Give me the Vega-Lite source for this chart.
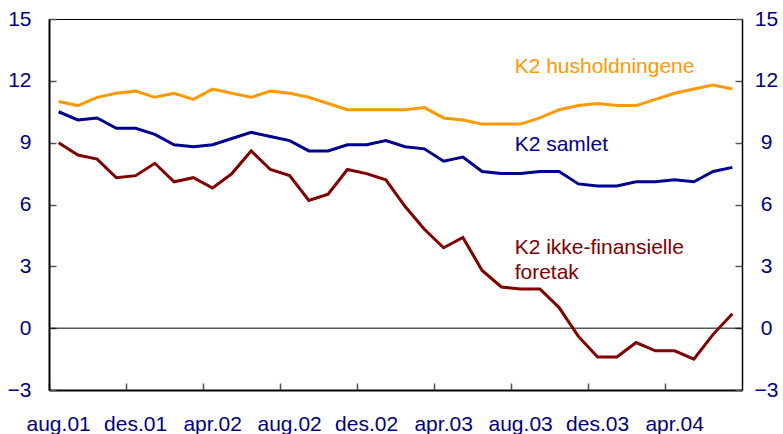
{
  "$schema": "https://vega.github.io/schema/vega-lite/v6.json",
  "width": 693,
  "height": 371,
  "autosize": {"type": "none"},
  "padding": {"left": 49, "top": 19, "right": 41, "bottom": 44},
  "background": "#ffffff",
  "config": {
    "view": {"stroke": "#000000", "strokeWidth": 1},
    "font": "Liberation Sans",
    "axis": {"labelFont": "Liberation Sans", "grid": false, "title": null}
  },
  "datasets": {
    "k2": [
      {"m": "aug.01", "hus": 11.0, "sam": 10.5, "ikke": 9.0},
      {"m": "sep.01", "hus": 10.8, "sam": 10.1, "ikke": 8.4},
      {"m": "okt.01", "hus": 11.2, "sam": 10.2, "ikke": 8.2},
      {"m": "nov.01", "hus": 11.4, "sam": 9.7, "ikke": 7.3},
      {"m": "des.01", "hus": 11.5, "sam": 9.7, "ikke": 7.4},
      {"m": "jan.02", "hus": 11.2, "sam": 9.4, "ikke": 8.0},
      {"m": "feb.02", "hus": 11.4, "sam": 8.9, "ikke": 7.1},
      {"m": "mar.02", "hus": 11.1, "sam": 8.8, "ikke": 7.3},
      {"m": "apr.02", "hus": 11.6, "sam": 8.9, "ikke": 6.8},
      {"m": "mai.02", "hus": 11.4, "sam": 9.2, "ikke": 7.5},
      {"m": "jun.02", "hus": 11.2, "sam": 9.5, "ikke": 8.6},
      {"m": "jul.02", "hus": 11.5, "sam": 9.3, "ikke": 7.7},
      {"m": "aug.02", "hus": 11.4, "sam": 9.1, "ikke": 7.4},
      {"m": "sep.02", "hus": 11.2, "sam": 8.6, "ikke": 6.2},
      {"m": "okt.02", "hus": 10.9, "sam": 8.6, "ikke": 6.5},
      {"m": "nov.02", "hus": 10.6, "sam": 8.9, "ikke": 7.7},
      {"m": "des.02", "hus": 10.6, "sam": 8.9, "ikke": 7.5},
      {"m": "jan.03", "hus": 10.6, "sam": 9.1, "ikke": 7.2},
      {"m": "feb.03", "hus": 10.6, "sam": 8.8, "ikke": 5.9},
      {"m": "mar.03", "hus": 10.7, "sam": 8.7, "ikke": 4.8},
      {"m": "apr.03", "hus": 10.2, "sam": 8.1, "ikke": 3.9},
      {"m": "mai.03", "hus": 10.1, "sam": 8.3, "ikke": 4.4},
      {"m": "jun.03", "hus": 9.9, "sam": 7.6, "ikke": 2.8},
      {"m": "jul.03", "hus": 9.9, "sam": 7.5, "ikke": 2.0},
      {"m": "aug.03", "hus": 9.9, "sam": 7.5, "ikke": 1.9},
      {"m": "sep.03", "hus": 10.2, "sam": 7.6, "ikke": 1.9},
      {"m": "okt.03", "hus": 10.6, "sam": 7.6, "ikke": 1.0},
      {"m": "nov.03", "hus": 10.8, "sam": 7.0, "ikke": -0.4},
      {"m": "des.03", "hus": 10.9, "sam": 6.9, "ikke": -1.4},
      {"m": "jan.04", "hus": 10.8, "sam": 6.9, "ikke": -1.4},
      {"m": "feb.04", "hus": 10.8, "sam": 7.1, "ikke": -0.7},
      {"m": "mar.04", "hus": 11.1, "sam": 7.1, "ikke": -1.1},
      {"m": "apr.04", "hus": 11.4, "sam": 7.2, "ikke": -1.1},
      {"m": "mai.04", "hus": 11.6, "sam": 7.1, "ikke": -1.5},
      {"m": "jun.04", "hus": 11.8, "sam": 7.6, "ikke": -0.3},
      {"m": "jul.04", "hus": 11.6, "sam": 7.8, "ikke": 0.7}
    ],
    "labels": [
      {"txt": "K2 husholdningene", "m": "aug.03", "v": 12.4, "serie": "hus"},
      {"txt": "K2 samlet", "m": "aug.03", "v": 8.6, "serie": "sam"},
      {"txt": "K2 ikke-finansielle\nforetak", "m": "aug.03", "v": 3.6, "serie": "ikke"}
    ]
  },
  "layer": [
    {
      "data": {"values": [{}]},
      "mark": {"type": "rule", "color": "#000000", "strokeWidth": 1},
      "encoding": {
        "y": {
          "datum": 0,
          "type": "quantitative",
          "scale": {"domain": [-3, 15], "nice": false, "zero": false},
          "axis": {
            "orient": "right",
            "values": [-3, 0, 3, 6, 9, 12, 15],
            "tickSize": -7,
            "tickColor": "#555555",
            "tickWidth": 1.5,
            "labelPadding": 31,
            "labelAlign": "center",
            "labelBaseline": "middle",
            "labelFontSize": 21,
            "labelColor": "#000080",
            "domainColor": "#000000",
            "domainWidth": 1.5
          }
        }
      }
    },
    {
      "data": {"name": "k2"},
      "transform": [{"fold": ["hus", "sam", "ikke"], "as": ["serie", "verdi"]}],
      "mark": {"type": "line", "strokeWidth": 3},
      "encoding": {
        "x": {
          "field": "m",
          "type": "ordinal",
          "sort": null,
          "bandPosition": 0.5,
          "scale": {"type": "band", "paddingInner": 0, "paddingOuter": 0},
          "axis": {
            "values": ["aug.01", "des.01", "apr.02", "aug.02", "des.02", "apr.03", "aug.03", "des.03", "apr.04"],
            "bandPosition": 0,
            "tickSize": -7,
            "tickColor": "#555555",
            "tickWidth": 1.5,
            "labelPadding": 47,
            "labelBaseline": "alphabetic",
            "labelAngle": 0,
            "labelFontSize": 21,
            "labelColor": "#000080",
            "labelOverlap": false,
            "domainColor": "#000000",
            "domainWidth": 2
          }
        },
        "y": {
          "field": "verdi",
          "type": "quantitative",
          "scale": {"domain": [-3, 15], "nice": false, "zero": false},
          "axis": {
            "orient": "left",
            "values": [-3, 0, 3, 6, 9, 12, 15],
            "tickSize": -7,
            "tickColor": "#555555",
            "tickWidth": 1.5,
            "labelPadding": 25,
            "labelBaseline": "middle",
            "labelFontSize": 21,
            "labelColor": "#000080",
            "domainColor": "#000000",
            "domainWidth": 2
          }
        },
        "color": {
          "field": "serie",
          "type": "nominal",
          "scale": {"domain": ["hus", "sam", "ikke"], "range": ["#FF9900", "#000090", "#800000"]},
          "legend": null
        }
      }
    },
    {
      "data": {"name": "labels"},
      "mark": {"type": "text", "align": "left", "baseline": "alphabetic", "dx": -6, "fontSize": 21, "lineHeight": 25, "lineBreak": "\n", "font": "Liberation Sans"},
      "encoding": {
        "x": {"field": "m", "type": "ordinal", "sort": null, "bandPosition": 0.5},
        "y": {"field": "v", "type": "quantitative", "axis": null},
        "text": {"field": "txt"},
        "color": {"field": "serie", "type": "nominal", "legend": null}
      }
    }
  ],
  "resolve": {"axis": {"y": "independent"}}
}
